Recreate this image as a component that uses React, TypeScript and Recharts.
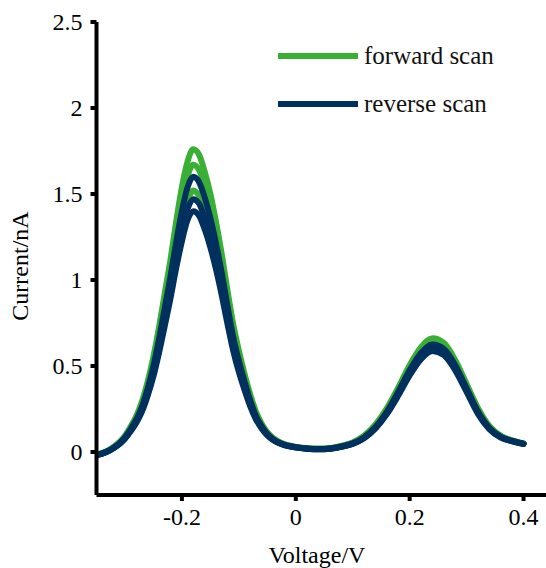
import { LineChart, Line, XAxis, YAxis, Label } from "recharts";

const FONT = "'Liberation Serif', 'Times New Roman', serif";
const GREEN = "#39b035";
const BLUE = "#00305e";

// voltage (V)
const voltage = [
  -0.35, -0.34, -0.33, -0.32, -0.31, -0.3, -0.29, -0.28, -0.27, -0.26, -0.25,
  -0.24, -0.23, -0.22, -0.21, -0.2, -0.19, -0.18, -0.17, -0.16, -0.15, -0.14,
  -0.13, -0.12, -0.11, -0.1, -0.09, -0.08, -0.07, -0.06, -0.05, -0.04, -0.03,
  -0.02, 0, 0.02, 0.04, 0.06, 0.08, 0.1, 0.12, 0.14, 0.16, 0.18, 0.2, 0.22,
  0.24, 0.26, 0.28, 0.3, 0.32, 0.34, 0.36, 0.38, 0.4,
];

// forward scans (nA)
const forward1 = [
  -0.015, -0.006, 0.008, 0.03, 0.057, 0.095, 0.148, 0.21, 0.295, 0.41, 0.555,
  0.73, 0.925, 1.12, 1.34, 1.54, 1.69, 1.76, 1.73, 1.63, 1.5, 1.335, 1.15, 0.94,
  0.745, 0.59, 0.455, 0.335, 0.235, 0.165, 0.115, 0.082, 0.06, 0.046, 0.03,
  0.022, 0.02, 0.023, 0.036, 0.056, 0.095, 0.16, 0.255, 0.375, 0.505, 0.61,
  0.662, 0.635, 0.535, 0.395, 0.255, 0.152, 0.095, 0.068, 0.05,
];
const forward2 = [
  -0.016, -0.007, 0.007, 0.028, 0.054, 0.09, 0.14, 0.2, 0.28, 0.39, 0.525, 0.69,
  0.88, 1.065, 1.275, 1.46, 1.605, 1.67, 1.64, 1.545, 1.42, 1.265, 1.09, 0.89,
  0.705, 0.56, 0.43, 0.315, 0.222, 0.158, 0.11, 0.078, 0.057, 0.044, 0.029,
  0.021, 0.018, 0.022, 0.034, 0.053, 0.09, 0.152, 0.245, 0.362, 0.49, 0.595,
  0.647, 0.62, 0.52, 0.383, 0.245, 0.146, 0.092, 0.066, 0.049,
];
const forward3 = [
  -0.016, -0.007, 0.006, 0.027, 0.052, 0.088, 0.135, 0.19, 0.26, 0.36, 0.48,
  0.63, 0.8, 0.97, 1.16, 1.33, 1.46, 1.52, 1.49, 1.41, 1.295, 1.15, 0.99, 0.81,
  0.64, 0.505, 0.39, 0.287, 0.203, 0.146, 0.103, 0.074, 0.055, 0.042, 0.028,
  0.02, 0.018, 0.021, 0.033, 0.052, 0.088, 0.15, 0.24, 0.355, 0.482, 0.585,
  0.637, 0.61, 0.515, 0.378, 0.242, 0.145, 0.09, 0.065, 0.049,
];

// reverse scans (nA)
const reverse1 = [
  -0.017, -0.008, 0.005, 0.025, 0.05, 0.085, 0.133, 0.19, 0.265, 0.37, 0.5,
  0.66, 0.84, 1.02, 1.22, 1.4, 1.54, 1.6, 1.57, 1.48, 1.36, 1.21, 1.04, 0.85,
  0.67, 0.53, 0.41, 0.3, 0.21, 0.15, 0.105, 0.075, 0.055, 0.042, 0.028, 0.02,
  0.017, 0.02, 0.032, 0.05, 0.085, 0.145, 0.235, 0.35, 0.475, 0.575, 0.625,
  0.6, 0.505, 0.37, 0.235, 0.14, 0.088, 0.064, 0.048,
];
const reverse2 = [
  -0.018, -0.009, 0.004, 0.023, 0.047, 0.08, 0.125, 0.178, 0.248, 0.345, 0.46,
  0.61, 0.775, 0.94, 1.12, 1.29, 1.415, 1.47, 1.445, 1.36, 1.25, 1.11, 0.955,
  0.78, 0.615, 0.49, 0.38, 0.28, 0.198, 0.142, 0.1, 0.072, 0.053, 0.04, 0.027,
  0.019, 0.016, 0.019, 0.03, 0.048, 0.082, 0.14, 0.227, 0.338, 0.46, 0.558,
  0.606, 0.582, 0.49, 0.36, 0.228, 0.136, 0.086, 0.063, 0.047,
];
const reverse3 = [
  -0.018, -0.009, 0.004, 0.022, 0.045, 0.077, 0.12, 0.17, 0.236, 0.328, 0.44,
  0.58, 0.735, 0.895, 1.07, 1.225, 1.35, 1.4, 1.375, 1.295, 1.19, 1.06, 0.91,
  0.745, 0.59, 0.465, 0.36, 0.265, 0.19, 0.137, 0.097, 0.07, 0.052, 0.04, 0.027,
  0.019, 0.016, 0.019, 0.03, 0.047, 0.08, 0.137, 0.22, 0.328, 0.445, 0.54,
  0.587, 0.563, 0.475, 0.35, 0.222, 0.133, 0.084, 0.062, 0.047,
];

const xTicks = [-0.2, 0, 0.2, 0.4];
const yTicks = [0, 0.5, 1, 1.5, 2, 2.5];

const legendItems = [
  { label: "forward scan", color: GREEN },
  { label: "reverse scan", color: BLUE },
];

const data = voltage.map((v, k) => ({
  v,
  f1: forward1[k],
  f2: forward2[k],
  f3: forward3[k],
  r1: reverse1[k],
  r2: reverse2[k],
  r3: reverse3[k],
}));

const series = [
  { key: "f1", color: GREEN },
  { key: "f2", color: GREEN },
  { key: "f3", color: GREEN },
  { key: "r1", color: BLUE },
  { key: "r2", color: BLUE },
  { key: "r3", color: BLUE },
];

const textStyle = { fontFamily: FONT, fontSize: 24 };

function ScanLegend() {
  return (
    <div
      style={{
        position: "absolute",
        left: 278,
        top: 41,
        fontFamily: FONT,
        fontSize: 25,
        lineHeight: "30px",
        color: "#111",
      }}
    >
      {legendItems.map((item, idx) => (
        <div
          key={item.label}
          style={{
            display: "flex",
            alignItems: "center",
            height: 30,
            marginBottom: idx === 0 ? 18 : 0,
          }}
        >
          <span
            style={{
              display: "inline-block",
              width: 80,
              height: 6,
              background: item.color,
              marginRight: 6,
            }}
          />
          <span>{item.label}</span>
        </div>
      ))}
    </div>
  );
}

function XTick(props: any) {
  const { x, y, payload } = props;
  return (
    <text x={x} y={y} dy="0.71em" textAnchor="middle" fill="#000" style={textStyle}>
      {payload.value}
    </text>
  );
}

function YTick(props: any) {
  const { x, y, payload } = props;
  return (
    <text x={x} y={y} dy="0.34em" textAnchor="end" fill="#000" style={textStyle}>
      {payload.value}
    </text>
  );
}

export default function App() {
  return (
    <div
      style={{
        position: "absolute",
        left: 0,
        top: 0,
        width: 546,
        height: 568,
        overflow: "hidden",
        background: "#fff",
      }}
    >
      <LineChart
        width={552}
        height={568}
        data={data}
        margin={{ top: 22, right: 0, left: 0, bottom: 0 }}
        style={{ fontFamily: FONT }}
      >
        <XAxis
          dataKey="v"
          type="number"
          domain={[-0.35, 0.45]}
          ticks={xTicks}
          allowDataOverflow
          height={73}
          axisLine={{ stroke: "#000", strokeWidth: 4 }}
          tickLine={{ stroke: "#000", strokeWidth: 4 }}
          tickSize={6}
          tickMargin={7}
          tick={<XTick />}
        >
          <Label
            content={() => (
              <text x={317} y={563} textAnchor="middle" fill="#000" style={textStyle}>
                Voltage/V
              </text>
            )}
          />
        </XAxis>
        <YAxis
          type="number"
          domain={[-0.25, 2.5]}
          ticks={yTicks}
          allowDataOverflow
          width={96.5}
          axisLine={{ stroke: "#000", strokeWidth: 4 }}
          tickLine={{ stroke: "#000", strokeWidth: 4 }}
          tickSize={6}
          tickMargin={8}
          tick={<YTick />}
        >
          <Label
            content={() => (
              <text
                x={28}
                y={266}
                textAnchor="middle"
                fill="#000"
                style={textStyle}
                transform="rotate(-90 28 266)"
              >
                Current/nA
              </text>
            )}
          />
        </YAxis>
        {series.map((s) => (
          <Line
            key={s.key}
            type="monotone"
            dataKey={s.key}
            stroke={s.color}
            strokeWidth={6}
            strokeLinecap="round"
            dot={false}
            activeDot={false}
            isAnimationActive={false}
          />
        ))}
      </LineChart>
      <ScanLegend />
    </div>
  );
}
